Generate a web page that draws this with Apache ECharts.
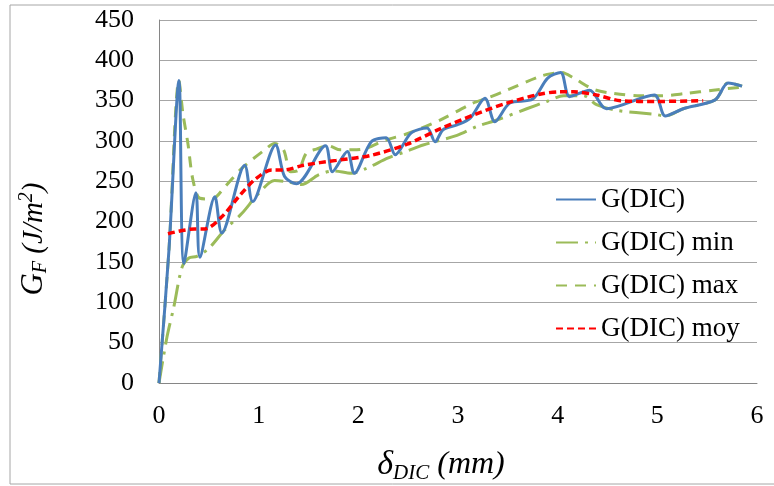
<!DOCTYPE html>
<html><head><meta charset="utf-8">
<script src="https://cdn.jsdelivr.net/npm/echarts@6/dist/echarts.min.js"></script>
<style>html,body{margin:0;padding:0;background:#fff}#c{width:774px;height:486px}</style>
</head><body><div id="c"></div>
<script>
// [delta (mm), G (J/m2)]
const gDIC = [[0,0],[0.1,165],[0.2,375],[0.25,148],[0.37,236],[0.41,156],[0.56,231],[0.63,186],[0.86,270],[0.94,225],[1.17,295],[1.26,256],[1.38,247],[1.67,294],[1.74,262],[1.89,287],[1.96,260],[2.13,299],[2.28,304],[2.37,283],[2.53,310],[2.69,316],[2.77,299],[2.85,314],[2.99,320],[3.12,328],[3.27,353],[3.37,324],[3.52,347],[3.75,352],[3.9,378],[4.03,385],[4.12,355],[4.32,363],[4.49,340],[4.97,357],[5.08,331],[5.26,340],[5.58,351],[5.71,372],[5.85,368]];
const gMin = [[0,0],[0.08,57],[0.15,95],[0.23,143],[0.3,155],[0.38,157],[0.5,167],[0.66,190],[0.83,210],[1.0,235],[1.16,251],[1.3,249],[1.43,246],[1.6,258],[1.75,263],[1.93,260],[2.08,266],[2.3,279],[2.5,288],[2.65,295],[2.99,307],[3.19,318],[3.39,326],[3.69,340],[3.89,349],[4.06,356],[4.26,356],[4.39,345],[4.59,338],[4.98,333],[5.08,331],[5.26,340],[5.58,351],[5.71,372],[5.85,368]];
const gMax = [[0,0],[0.1,165],[0.2,375],[0.24,334],[0.29,297],[0.34,252],[0.41,229],[0.53,228],[0.66,243],[0.83,266],[1.06,289],[1.16,297],[1.25,289],[1.32,262],[1.4,264],[1.48,285],[1.58,290],[1.7,294],[1.82,289],[1.95,289],[2.08,291],[2.27,301],[2.49,309],[2.82,326],[3.15,347],[3.29,353],[3.49,363],[3.82,380],[3.96,384],[4.04,385],[4.16,378],[4.36,364],[4.56,359],[4.83,356],[5.03,356],[5.29,359],[5.56,363],[5.86,367]];
const gMoy = [[0.09,185],[0.36,191],[0.46,191],[0.63,206],[0.8,231],[0.96,252],[1.13,264],[1.25,264],[1.45,270],[1.78,276],[2.12,282],[2.49,296],[2.82,315],[3.15,332],[3.49,347],[3.82,358],[4.02,361],[4.16,361],[4.39,357],[4.63,350],[4.99,349],[5.46,350]];
const names = ['G(DIC)','G(DIC) min','G(DIC) max','G(DIC) moy'];

const serif = 'Liberation Serif';
const chart = echarts.init(document.getElementById('c'));
chart.setOption({
  animation:false,
  backgroundColor:'#fff',
  graphic:[
    {type:'rect',shape:{x:10,y:5,width:790,height:479},style:{fill:'none',stroke:'#a6a6a6',lineWidth:1},silent:true},
    {type:'text',x:34,y:239,rotation:Math.PI/2,silent:true,
     style:{text:'{g|G}{s|F}{n| (J/m}{p|2}{n|)}',align:'center',verticalAlign:'middle',
       rich:{
         g:{fontFamily:serif,fontStyle:'italic',fontSize:31,fill:'#000'},
         s:{fontFamily:serif,fontStyle:'italic',fontSize:20,fill:'#000',padding:[14,0,0,0]},
         n:{fontFamily:serif,fontStyle:'italic',fontSize:29,fill:'#000'},
         p:{fontFamily:serif,fontStyle:'italic',fontSize:20,fill:'#000',padding:[0,0,14,0]}
       }}},
    {type:'text',x:441,y:465,silent:true,
     style:{text:'{d|δ}{s|DIC}{n| (mm)}',align:'center',verticalAlign:'middle',
       rich:{
         d:{fontFamily:serif,fontStyle:'italic',fontSize:34,fill:'#000'},
         s:{fontFamily:serif,fontStyle:'italic',fontSize:21,fill:'#000',padding:[16,0,0,0]},
         n:{fontFamily:serif,fontStyle:'italic',fontSize:32,fill:'#000'}
       }}}
  ],
  grid:{left:159,right:17,top:20,bottom:103},
  legend:{
    orient:'vertical',left:550,top:181,itemGap:16,itemWidth:40,itemHeight:14,
    data:names,
    itemStyle:{color:'rgba(0,0,0,0)',borderWidth:0,opacity:0},
    textStyle:{fontFamily:serif,fontSize:27,color:'#000'}
  },
  xAxis:{
    type:'value',min:0,max:6,interval:1,
    axisLine:{show:true,lineStyle:{color:'#868686'}},
    axisTick:{show:false},
    splitLine:{show:false},
    axisLabel:{fontFamily:serif,fontSize:26,color:'#000',margin:20}
  },
  yAxis:{
    type:'value',min:0,max:450,interval:50,
    axisLine:{show:true,lineStyle:{color:'#868686'}},
    axisTick:{show:false},
    splitLine:{lineStyle:{color:'#a6a6a6',width:1}},
    axisLabel:{fontFamily:serif,fontSize:26,color:'#000',margin:25,padding:[5,0,0,0]}
  },
  series:[
    {name:names[0],type:'line',data:gDIC,smooth:0.3,symbol:'none',z:3,
     itemStyle:{color:'#4a7ebb'},lineStyle:{color:'#4a7ebb',width:3}},
    {name:names[1],type:'line',data:gMin,smooth:0.3,symbol:'none',z:2,
     itemStyle:{color:'#9bbb59'},lineStyle:{color:'#9bbb59',width:3,type:[22,7,3,7]}},
    {name:names[2],type:'line',data:gMax,smooth:0.3,symbol:'none',z:2,
     itemStyle:{color:'#9bbb59'},lineStyle:{color:'#9bbb59',width:3,type:[11,8]}},
    {name:names[3],type:'line',data:gMoy,smooth:0.3,symbol:'none',z:4,
     itemStyle:{color:'#ff0000'},lineStyle:{color:'#ff0000',width:3.5,type:[7,4]}}
  ]
});
</script></body></html>
